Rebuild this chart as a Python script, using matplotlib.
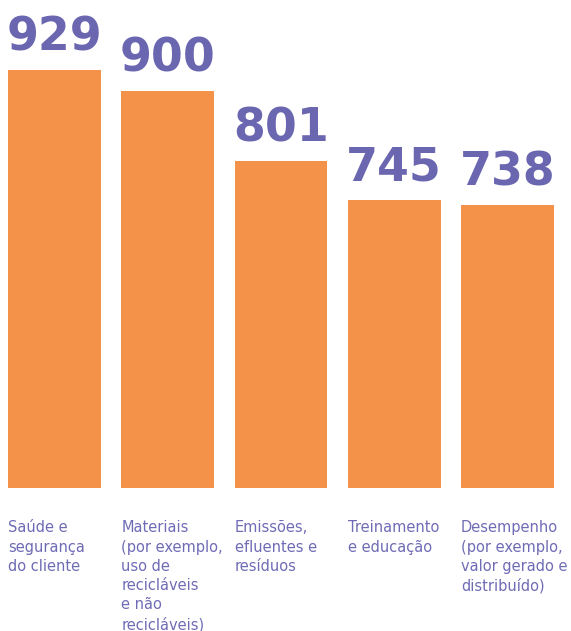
import matplotlib
matplotlib.use("Agg")
import matplotlib.pyplot as plt

categories = [
    "Saúde e\nsegurança\ndo cliente",
    "Materiais\n(por exemplo,\nuso de\nrecicláveis\ne não\nrecicláveis)",
    "Emissões,\nefluentes e\nresíduos",
    "Treinamento\ne educação",
    "Desempenho\n(por exemplo,\nvalor gerado e\ndistribuído)",
]
values = [929, 900, 801, 745, 738]

orange = "#F5924A"
purple = "#6A66B0"
label_purple = "#6F6BB5"

fig = plt.figure(figsize=(5.71, 6.31), dpi=100)
ax = fig.add_axes([0, 1 - 488 / 631, 1, 488 / 631])

bar_w = 0.82
x = list(range(len(values)))
bars = ax.bar(x, values, width=bar_w, color=orange, bottom=0)

ax.set_xlim(-0.481, 4.561)
ax.set_ylim(337, 1028.5)

for xi, v in zip(x, values):
    ax.annotate(str(v), (xi, v), xytext=(0, 14), textcoords="offset points",
                ha="center", va="baseline", fontsize=33, fontweight="bold",
                color=purple, family="DejaVu Sans")

for xi, lab in zip(x, categories):
    ax.text(xi - bar_w / 2, -0.066, lab, transform=ax.get_xaxis_transform(),
            ha="left", va="top", fontsize=10.5, color=label_purple,
            linespacing=1.36, family="DejaVu Sans")

ax.axis("off")
fig.savefig("out.png", dpi=100)
